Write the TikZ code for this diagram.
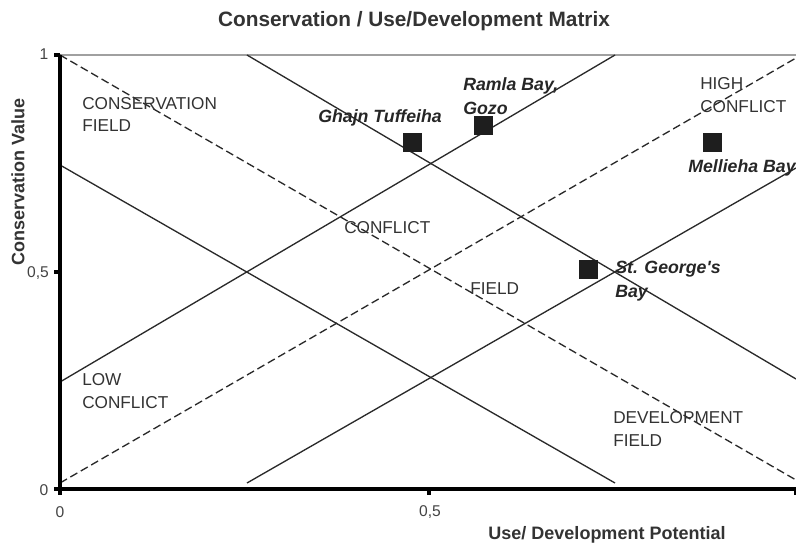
\documentclass[tikz,border=0pt]{standalone}
\usepackage{fontspec}
\setmainfont{Liberation Sans}
\newfontfamily\sitefont{Liberation Sans}
\definecolor{txt}{HTML}{333333}
\definecolor{sitecol}{HTML}{262626}
\definecolor{linecol}{HTML}{2A2A2A}
\definecolor{sqcol}{HTML}{1E1E1E}
\definecolor{topgray}{HTML}{A0A0A0}
\definecolor{tickcol}{HTML}{444444}
\begin{document}
\begin{tikzpicture}[x=0.75pt,y=-0.75pt,
  lbl/.style={font=\fontsize{12.9}{17.2}\selectfont, text=txt, inner sep=0pt, anchor=west, align=left},
  site/.style={font=\sitefont\fontsize{13.3}{18}\selectfont\bfseries\itshape, text=sitecol, inner sep=0pt, anchor=west, align=left},
  sq/.style={fill=sqcol, minimum size=14.25pt, inner sep=0pt, draw=none},
  zone/.style={line width=1pt, draw=linecol},
  zonedash/.style={zone, dash pattern=on 6pt off 3pt},
  axisline/.style={line width=3pt, draw=black},
  tickmark/.style={line width=2.5pt, draw=black},
  ticklbl/.style={font=\fontsize{11.7}{14}\selectfont, text=tickcol, inner sep=0pt},
  axtitle/.style={font=\fontsize{13.5}{16}\selectfont\bfseries, text=txt, inner sep=0pt}
]
\useasboundingbox (0,0) rectangle (796,545);

% key points
\coordinate (O) at (60,489);
\coordinate (Ytop) at (60,55);
\coordinate (Yhalf) at (60,272);
\coordinate (Xend) at (796,489);
\coordinate (Xhalf) at (429,489);
\coordinate (TR) at (796,55);

% top border
\draw[topgray, line width=1pt] (Ytop) -- (TR);

% dashed diagonals
\coordinate (DA1) at (60,55);
\coordinate (DA2) at (796,480);
\coordinate (DB1) at (60,483);
\coordinate (DB2) at (796,58);
\draw[zonedash] (DA1) -- (DA2);
\draw[zonedash] (DB1) -- (DB2);

% solid field borders
\coordinate (S1a) at (247,55);
\coordinate (S1b) at (796,379);
\coordinate (S2a) at (60,382);
\coordinate (S2b) at (615,55);
\coordinate (S3a) at (60,165);
\coordinate (S3b) at (615,483);
\coordinate (S4a) at (247,483);
\coordinate (S4b) at (796,168);
\draw[zone] (S1a) -- (S1b);
\draw[zone] (S2a) -- (S2b);
\draw[zone] (S3a) -- (S3b);
\draw[zone] (S4a) -- (S4b);

% axes
\draw[axisline] (Ytop) -- (O) -- (Xend);
\draw[tickmark] (Ytop) -- ++(-6,0);
\draw[tickmark] (Yhalf) -- ++(-6,0);
\draw[tickmark] (O) -- ++(-6,0);
\draw[tickmark] (O) -- ++(0,6);
\draw[tickmark] (Xhalf) -- ++(0,6);
\draw[tickmark] (Xend) -- ++(0,6);

% tick labels
\node[ticklbl] (y1) at (44,54) {1};
\node[ticklbl] (y05) at (38,273) {0,5};
\node[ticklbl] (y0) at (44,490) {0};
\node[ticklbl] (x0) at (60,512) {0};
\node[ticklbl] (x05) at (430,512) {0,5};

% titles
\node[font=\fontsize{15.6}{18}\selectfont\bfseries, text=txt, inner sep=0pt] (title) at (414,21) {Conservation / Use/Development Matrix};
\node[axtitle, rotate=90] (ytitle) at (18,182) {Conservation Value};
\node[axtitle] (xtitle) at (607,535) {Use/ Development Potential};

% zone labels
\node[lbl] (cf) at (82,114.5) {CONSERVATION\\FIELD};
\node[lbl] (hc) at (700,95.5) {HIGH\\CONFLICT};
\node[lbl] (conf) at (344,228) {CONFLICT};
\node[lbl] (fld) at (470,289) {FIELD};
\node[lbl] (lc) at (82,391.5) {LOW\\CONFLICT};
\node[lbl] (df) at (613,429) {DEVELOPMENT\\FIELD};

% sites
\node[sq] (gtsq) at (412.5,142.5) {};
\node[sq] (rbsq) at (483.5,126) {};
\node[sq] (mbsq) at (712.5,142.5) {};
\node[sq] (sgsq) at (588.5,269.5) {};
\node[site] (gt) at (318,118) {Ghajn Tuffeiha};
\node[site] (rb) at (463,96) {Ramla Bay,\\Gozo};
\node[site] (mb) at (688,168) {Mellieha Bay};
\node[site] (sg) at (615,281) {St. George's\\Bay};
\end{tikzpicture}
\end{document}
